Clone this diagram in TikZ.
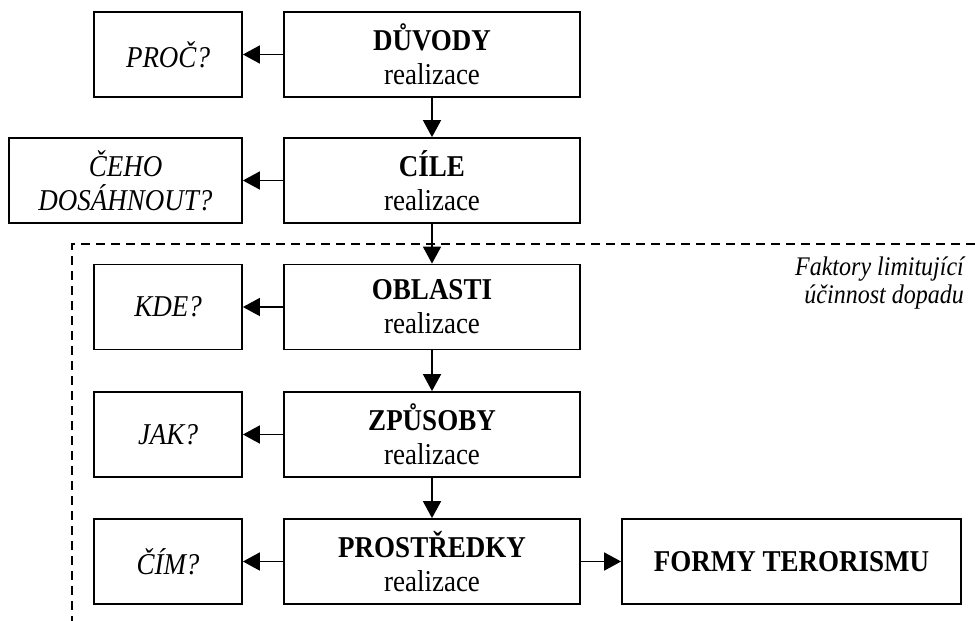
\documentclass[tikz,border=0pt]{standalone}
\usepackage{fontspec}
\usepackage{graphicx}
\setmainfont{Liberation Serif}
\usetikzlibrary{arrows.meta}
\newcommand\vst[1]{\scalebox{1}[1.12]{#1}}
\tikzset{
  mainbox/.style={draw, line width=1.8pt, minimum width=296pt, minimum height=85pt, inner sep=0pt, align=center, font=\fontsize{27}{34}\selectfont},
  askbox/.style={draw, line width=1.8pt, minimum width=148pt, minimum height=85pt, inner sep=0pt, align=center, font=\fontsize{27}{34}\selectfont\itshape},
  conn/.style={line width=1.8pt, -{Triangle[length=17pt,width=18pt]}},
  limit/.style={line width=1.4pt, dash pattern=on 9pt off 6pt}
}
\begin{document}
\begin{tikzpicture}[x=1pt,y=-1pt]
\useasboundingbox (0,0) rectangle (975,621);
% main column
\node[mainbox] (duvody) at (432,54.5) {\vst{\textbf{DŮVODY}}\\\vst{realizace}};
\node[mainbox] (cile) at (432,180.5) {\vst{\textbf{CÍLE}}\\\vst{realizace}};
\node[mainbox] (oblasti) at (432,307) {\vst{\textbf{OBLASTI}}\\\vst{realizace}};
\node[mainbox] (zpusoby) at (432,434.5) {\vst{\textbf{ZPŮSOBY}}\\\vst{realizace}};
\node[mainbox] (prostredky) at (432,561.5) {\vst{\textbf{PROSTŘEDKY}}\\\vst{realizace}};
% question boxes
\node[askbox] (proc) at (168,54.5) {\vst{PROČ?}};
\node[askbox, minimum width=233pt] (ceho) at (125.5,180.5) {\vst{ČEHO}\\\vst{DOSÁHNOUT?}};
\node[askbox] (kde) at (168,307) {\vst{KDE?}};
\node[askbox] (jak) at (168,434.5) {\vst{JAK?}};
\node[askbox] (cim) at (168,561.5) {\vst{ČÍM?}};
% forms
\node[mainbox, minimum width=339pt] (formy) at (791.5,561.5) {\vst{\textbf{FORMY TERORISMU}}};
% connectors
\draw[conn] (duvody) -- (cile);
\draw[conn] (cile) -- (oblasti);
\draw[conn] (oblasti) -- (zpusoby);
\draw[conn] (zpusoby) -- (prostredky);
\draw[conn] (duvody) -- (proc);
\draw[conn] (cile) -- (ceho);
\draw[conn] (oblasti) -- (kde);
\draw[conn] (zpusoby) -- (jak);
\draw[conn] (prostredky) -- (cim);
\draw[conn] (prostredky) -- (formy);
% limiting factors region
\coordinate (lcorner) at (72,244);
\coordinate (lright) at (975,244);
\coordinate (lbottom) at (72,621);
\draw[limit] (lright) -- (lcorner) -- (lbottom);
\node[anchor=base east, align=right, inner sep=0pt, font=\fontsize{24}{28}\selectfont\itshape] (faktory) at (964,303) {\vst{Faktory limitující}\\\vst{účinnost dopadu}};
\end{tikzpicture}
\end{document}
